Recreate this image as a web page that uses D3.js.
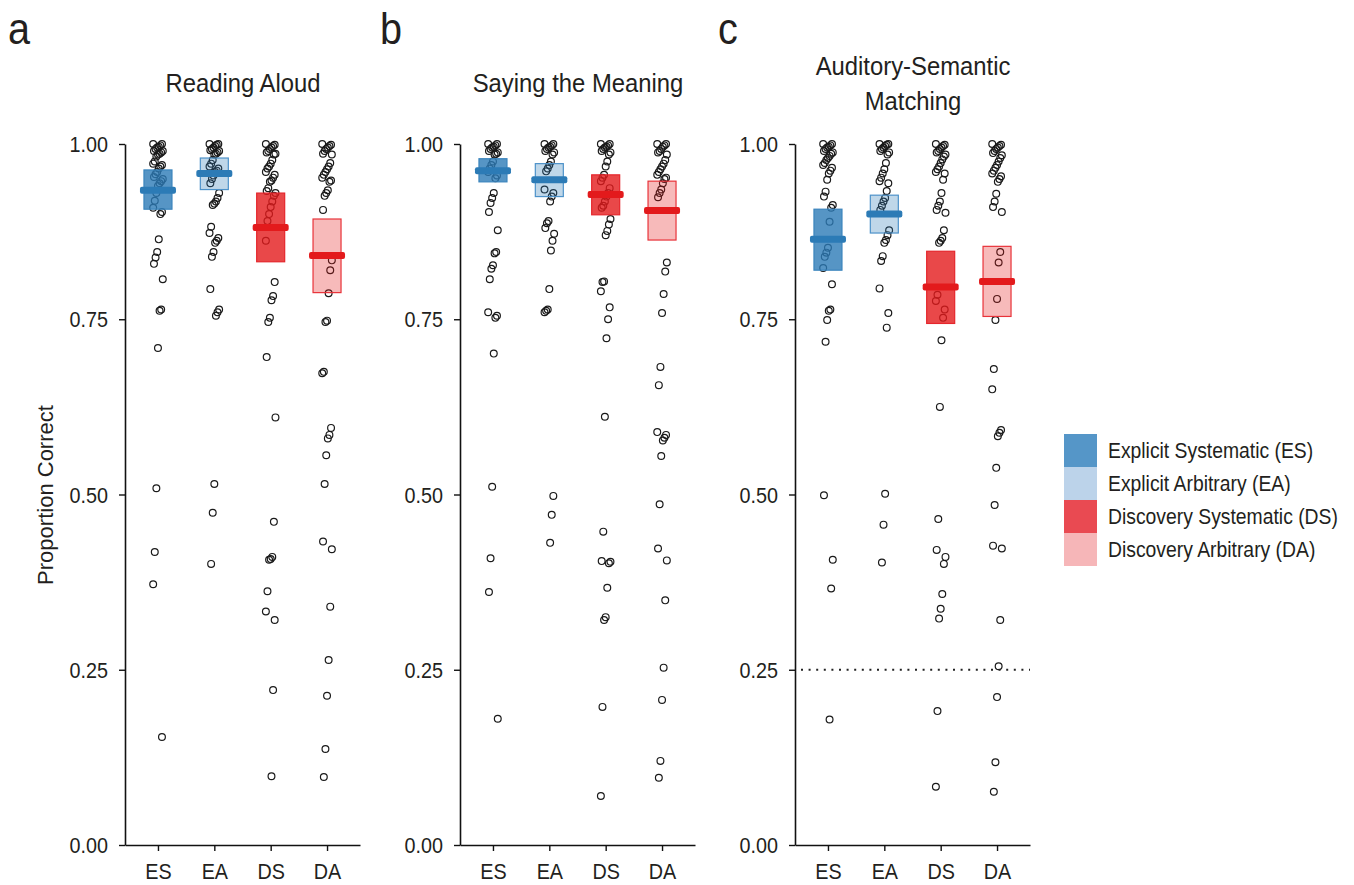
<!DOCTYPE html>
<html><head><meta charset="utf-8">
<script src="https://cdn.jsdelivr.net/npm/d3@7"></script>
<style>
body{margin:0;background:#fff}
text{font-family:"Liberation Sans",Arial,sans-serif;fill:#231f20}
</style>
</head><body>
<svg id="chart" width="1354" height="885"></svg>
<script>
const categories = ["ES","EA","DS","DA"];
const panelLetters = ["a","b","c"];
const panelTitles = [["Reading Aloud"],["Saying the Meaning"],["Auditory-Semantic","Matching"]];
const yTicks = [0,0.25,0.5,0.75,1];
const legendLabels = ["Explicit Systematic (ES)","Explicit Arbitrary (EA)","Discovery Systematic (DS)","Discovery Arbitrary (DA)"];

// Panel a: Reading Aloud
const raES = [1.0,1.0,0.998,0.996,0.995,0.993,0.99,0.99,0.988,0.986,0.985,0.982,0.975,0.972,0.97,0.968,0.965,0.96,0.957,0.953,0.95,0.947,0.944,0.94,0.93,0.919,0.909,0.903,0.9,0.864,0.846,0.838,0.829,0.807,0.764,0.762,0.709,0.509,0.418,0.372,0.154];
const raEA = [1.0,1.0,0.999,0.997,0.995,0.993,0.991,0.99,0.988,0.986,0.985,0.977,0.972,0.968,0.965,0.962,0.96,0.955,0.95,0.944,0.93,0.923,0.918,0.915,0.913,0.882,0.873,0.866,0.862,0.859,0.846,0.839,0.793,0.764,0.76,0.755,0.515,0.474,0.401];
const raDS = [1.0,0.999,0.997,0.995,0.993,0.99,0.988,0.986,0.985,0.977,0.972,0.968,0.965,0.96,0.956,0.952,0.948,0.946,0.937,0.933,0.93,0.926,0.918,0.91,0.9,0.89,0.862,0.803,0.783,0.777,0.752,0.746,0.696,0.61,0.461,0.411,0.408,0.407,0.362,0.333,0.321,0.221,0.098];
const raDA = [1.0,0.999,0.997,0.995,0.993,0.99,0.986,0.985,0.973,0.968,0.964,0.96,0.956,0.952,0.948,0.946,0.934,0.93,0.926,0.906,0.834,0.82,0.787,0.748,0.746,0.675,0.673,0.595,0.585,0.58,0.556,0.515,0.433,0.422,0.34,0.264,0.213,0.137,0.097];
const raMean = [0.934,0.958,0.881,0.841];
const raLow  = [0.907,0.935,0.832,0.788];
const raHigh = [0.963,0.980,0.930,0.893];

// Panel b: Saying the Meaning
const smES = [1.0,1.0,0.998,0.996,0.995,0.993,0.99,0.988,0.986,0.985,0.975,0.97,0.965,0.96,0.955,0.951,0.93,0.923,0.916,0.903,0.877,0.846,0.844,0.827,0.822,0.807,0.76,0.755,0.752,0.701,0.511,0.409,0.361,0.18];
const smEA = [1.0,1.0,0.998,0.996,0.995,0.993,0.99,0.988,0.985,0.975,0.97,0.965,0.961,0.935,0.93,0.925,0.918,0.89,0.887,0.88,0.872,0.862,0.848,0.793,0.764,0.762,0.76,0.498,0.471,0.431];
const smDS = [1.0,1.0,0.998,0.996,0.995,0.993,0.99,0.988,0.985,0.975,0.968,0.956,0.952,0.947,0.937,0.93,0.925,0.918,0.912,0.909,0.893,0.885,0.876,0.87,0.804,0.803,0.79,0.767,0.75,0.723,0.611,0.447,0.405,0.404,0.402,0.367,0.325,0.321,0.197,0.07];
const smDA = [1.0,1.0,0.998,0.996,0.993,0.99,0.988,0.985,0.977,0.972,0.968,0.964,0.96,0.956,0.952,0.95,0.944,0.935,0.93,0.924,0.831,0.818,0.786,0.759,0.682,0.656,0.589,0.585,0.581,0.577,0.555,0.486,0.423,0.406,0.349,0.253,0.207,0.12,0.096];
const smMean = [0.962,0.949,0.928,0.905];
const smLow  = [0.946,0.925,0.899,0.863];
const smHigh = [0.979,0.972,0.956,0.947];

// Panel c: Auditory-Semantic Matching
const asES = [1.0,1.0,0.998,0.996,0.995,0.993,0.99,0.988,0.986,0.983,0.98,0.977,0.973,0.97,0.966,0.962,0.958,0.949,0.932,0.925,0.913,0.909,0.889,0.852,0.845,0.839,0.823,0.8,0.764,0.762,0.749,0.718,0.499,0.407,0.366,0.179];
const asEA = [1.0,1.0,0.999,0.997,0.995,0.993,0.99,0.988,0.985,0.973,0.964,0.958,0.952,0.947,0.944,0.933,0.923,0.918,0.912,0.906,0.877,0.87,0.863,0.859,0.84,0.833,0.794,0.759,0.738,0.501,0.457,0.403];
const asDS = [1.0,0.999,0.997,0.995,0.993,0.99,0.988,0.985,0.982,0.978,0.973,0.968,0.964,0.96,0.958,0.949,0.93,0.918,0.912,0.906,0.902,0.877,0.866,0.862,0.859,0.785,0.776,0.764,0.752,0.72,0.625,0.465,0.421,0.411,0.401,0.358,0.337,0.323,0.191,0.083];
const asDA = [1.0,0.999,0.997,0.995,0.993,0.99,0.987,0.984,0.98,0.975,0.97,0.966,0.962,0.958,0.954,0.95,0.946,0.929,0.918,0.91,0.903,0.846,0.831,0.779,0.749,0.679,0.65,0.592,0.588,0.583,0.538,0.485,0.427,0.423,0.321,0.255,0.211,0.118,0.076];
const asMean = [0.864,0.900,0.796,0.804];
const asLow  = [0.820,0.873,0.744,0.754];
const asHigh = [0.907,0.927,0.847,0.854];
const chanceLevel = 0.25;

const panelPoints = [[raES,raEA,raDS,raDA],[smES,smEA,smDS,smDA],[asES,asEA,asDS,asDA]];
const panelMeans = [raMean,smMean,asMean];
const panelLows = [raLow,smLow,asLow];
const panelHighs = [raHigh,smHigh,asHigh];

const baseColor = ["#2c7bb6","#2c7bb6","#e31a1c","#e31a1c"];
const boxFill = ["#5596c8","#bcd3ea","#e94a52","#f6b6b8"];
const boxOpacity = [0.8,0.3,0.8,0.3];
const boxStroke = ["#3a84bd","#4d92c9","#e5262c","#e8333a"];

const SX = 0.9; // condensed look
const svg = d3.select("#chart");
const y = d3.scaleLinear().domain([0,1]).range([845,144]);
const jitter = i => (((i*37)%13) - 6) * 0.8;

function ctext(parent, x, yy, str, size, anchor) {
  return parent.append("text")
    .attr("transform", `translate(${x},${yy}) scale(${SX},1)`)
    .attr("text-anchor", anchor || "start")
    .style("font-size", size + "px").text(str);
}

panelPoints.forEach((groups, p) => {
  const left = 125 + 335*p;
  const x = d3.scalePoint().domain(categories).range([left, left+235]).padding(0.585);
  const g = svg.append("g");

  groups.forEach((vals, ci) => {
    g.append("g").selectAll("circle").data(vals).join("circle")
      .attr("cx", (d,i) => x(categories[ci]) + jitter(i))
      .attr("cy", d => y(d))
      .attr("r", 3.4)
      .attr("fill","none")
      .attr("stroke","#1a1a1a")
      .attr("stroke-width",1.2);
  });

  categories.forEach((c, ci) => {
    g.append("rect")
      .attr("x", x(c)-14).attr("width", 28)
      .attr("y", y(panelHighs[p][ci]))
      .attr("height", y(panelLows[p][ci]) - y(panelHighs[p][ci]))
      .attr("fill", baseColor[ci]).attr("fill-opacity", boxOpacity[ci])
      .attr("stroke", boxStroke[ci]).attr("stroke-width", 1.2);
    g.append("rect")
      .attr("x", x(c)-18).attr("width", 36)
      .attr("y", y(panelMeans[p][ci]) - 3.5).attr("height", 7)
      .attr("rx", 2)
      .attr("fill", baseColor[ci]);
  });

  if (p === 2) {
    g.append("line")
      .attr("x1", left+6).attr("x2", left+235)
      .attr("y1", y(chanceLevel)).attr("y2", y(chanceLevel))
      .attr("stroke","#222").attr("stroke-width",2)
      .attr("stroke-dasharray","2,5.6");
  }

  const ya = g.append("g").attr("transform",`translate(${left},0)`)
    .call(d3.axisLeft(y).tickValues(yTicks).tickFormat(d3.format(".2f")).tickSize(6).tickSizeOuter(0).tickPadding(11));
  ya.selectAll(".tick text")
    .style("font-size","22px")
    .attr("x", -17/SX).attr("dy","0.35em")
    .attr("transform", `scale(${SX},1)`);
  const xa = g.append("g").attr("transform",`translate(0,845)`)
    .call(d3.axisBottom(x).tickSize(6).tickSizeOuter(0).tickPadding(12));
  xa.selectAll(".tick text")
    .style("font-size","22px")
    .attr("transform", `scale(${SX},1)`);
  [ya, xa].forEach(a => {
    a.select(".domain").attr("stroke","#111").attr("stroke-width",1.6);
    a.selectAll(".tick line").attr("stroke","#111").attr("stroke-width",1.4);
  });

  const cx = left + 118;
  const lines = panelTitles[p];
  const t0 = lines.length === 1 ? 92 : 75;
  lines.forEach((ln, k) => ctext(g, cx, t0 + k*35, ln, 26.5, "middle"));
  ctext(g, [8,380,718][p], 44, panelLetters[p], 44);
});

svg.append("text").attr("transform","translate(53,495) rotate(-90)")
  .attr("text-anchor","middle").style("font-size","22px").text("Proportion Correct");

const lg = svg.append("g");
legendLabels.forEach((lab, k) => {
  lg.append("rect").attr("x",1064).attr("y",434+33*k).attr("width",33).attr("height",33)
    .attr("fill", boxFill[k]);
  ctext(lg, 1108, 434+33*k+24, lab, 21.5);
});
</script>
</body></html>
